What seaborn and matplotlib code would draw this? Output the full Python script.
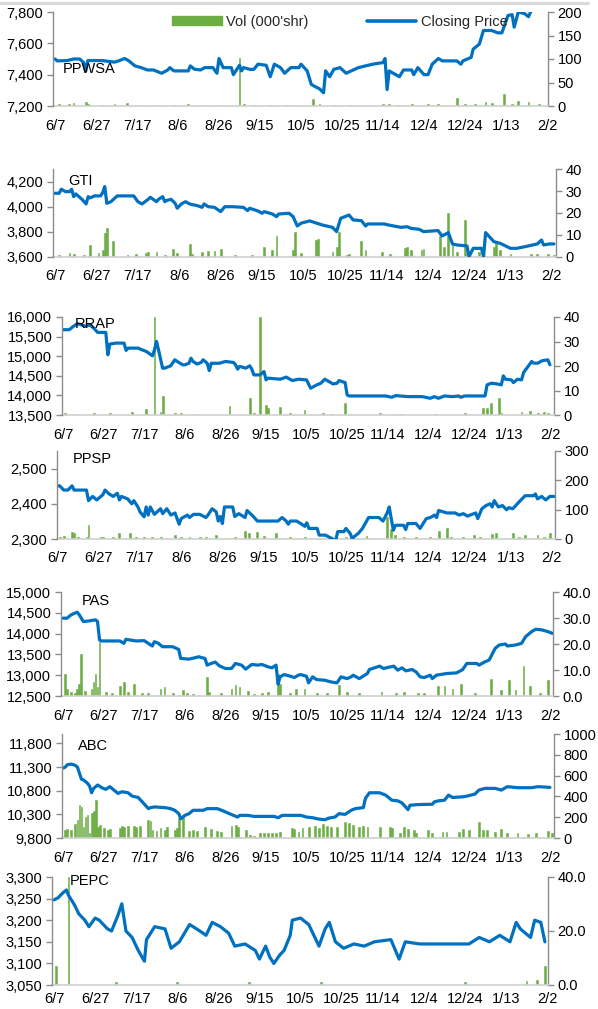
import matplotlib
matplotlib.use("Agg")
import matplotlib.pyplot as plt
import seaborn as sns
from matplotlib.lines import Line2D
from matplotlib.patches import Patch
from matplotlib.ticker import FuncFormatter

# ---------------- data ----------------
TICK_DAYS = [0, 20, 40, 60, 80, 100, 120, 140, 160, 180, 200, 220, 240]
TICK_LABELS = ["6/7", "6/27", "7/17", "8/6", "8/26", "9/15", "10/5", "10/25",
               "11/14", "12/4", "12/24", "1/13", "2/2"]

PPWSA_DAY = [0, 1, 6, 9, 12, 14, 15, 16, 23, 29, 31, 34, 36, 39, 42, 45, 48, 52, 55, 56, 58, 65, 66, 68, 71, 73, 77, 79, 80, 82, 86, 87, 90, 91, 92, 95, 97, 99, 103, 105, 107, 110, 112, 115, 119, 120, 123, 125, 127, 129, 131, 132, 134, 136, 139, 142, 148, 155, 160, 161, 162, 163, 168, 170, 174, 175, 177, 180, 182, 184, 187, 189, 196, 198, 199, 203, 204, 207, 209, 213, 216, 218, 221, 223, 224, 226, 229, 231, 232, 234, 238]
PPWSA_PRICE = [7500, 7488, 7490, 7500, 7500, 7477, 7424, 7490, 7490, 7480, 7488, 7503, 7488, 7456, 7445, 7430, 7430, 7409, 7430, 7445, 7424, 7424, 7456, 7435, 7430, 7445, 7445, 7409, 7503, 7445, 7445, 7400, 7460, 7424, 7445, 7434, 7434, 7467, 7460, 7387, 7467, 7445, 7409, 7445, 7445, 7467, 7424, 7338, 7323, 7310, 7284, 7424, 7387, 7434, 7445, 7409, 7445, 7467, 7477, 7503, 7305, 7424, 7387, 7430, 7430, 7400, 7445, 7400, 7400, 7467, 7503, 7488, 7488, 7467, 7488, 7510, 7563, 7595, 7682, 7682, 7667, 7667, 7778, 7783, 7703, 7800, 7790, 7770, 7800, 7830, 7850]
PPWSA_VOL_DAY = [2, 7, 9, 15, 16, 23, 29, 35, 42, 50, 58, 65, 73, 81, 90, 92, 97, 105, 113, 126, 129, 136, 144, 160, 163, 168, 174, 182, 187, 196, 200, 205, 210, 213, 219, 223, 226, 231, 236]
PPWSA_VOL = [4, 5, 6, 8, 4, 3, 4, 6, 3, 2, 3, 4, 3, 3, 103, 5, 3, 3, 2, 14, 5, 3, 3, 4, 5, 3, 4, 5, 5, 18, 4, 5, 8, 6, 26, 4, 10, 8, 4]

GTI_DAY = [0, 2, 3, 5, 7, 8, 9, 10, 13, 15, 16, 17, 19, 22, 23, 24, 25, 27, 30, 38, 40, 42, 45, 46, 49, 50, 52, 53, 54, 56, 58, 59, 61, 63, 65, 69, 71, 72, 74, 77, 80, 82, 86, 91, 93, 94, 98, 100, 101, 105, 107, 108, 113, 115, 117, 119, 123, 129, 134, 136, 138, 140, 142, 144, 148, 150, 151, 159, 161, 167, 170, 172, 176, 178, 185, 187, 190, 192, 194, 199, 200, 202, 206, 207, 208, 212, 215, 220, 223, 227, 233, 235, 236, 239, 241]
GTI_PRICE = [4107, 4107, 4139, 4120, 4120, 4139, 4080, 4102, 4059, 4022, 4080, 4070, 4086, 4086, 4112, 4160, 4027, 4040, 4086, 4086, 4040, 4022, 4059, 4075, 4040, 4059, 4080, 4040, 4050, 4059, 4027, 3988, 4022, 4040, 4022, 4007, 3995, 4022, 4000, 3995, 3961, 4000, 4000, 3995, 3969, 3988, 3966, 3948, 3961, 3942, 3921, 3942, 3948, 3921, 3847, 3870, 3887, 3855, 3836, 3802, 3908, 3921, 3934, 3895, 3889, 3847, 3863, 3863, 3855, 3836, 3841, 3828, 3820, 3802, 3810, 3767, 3794, 3704, 3696, 3688, 3603, 3669, 3669, 3603, 3794, 3722, 3709, 3669, 3669, 3682, 3704, 3735, 3696, 3704, 3704]
GTI_VOL_DAY = [2, 7, 9, 14, 17, 21, 23, 24, 25, 28, 35, 39, 44, 45, 49, 53, 57, 59, 65, 66, 71, 74, 77, 80, 87, 95, 101, 105, 107, 115, 116, 119, 126, 127, 134, 136, 137, 141, 142, 148, 150, 158, 162, 169, 170, 172, 177, 178, 186, 188, 190, 192, 194, 198, 199, 205, 207, 212, 213, 215, 220, 230, 233, 238, 241]
GTI_VOL = [1, 2, 1.5, 1, 5.5, 2, 3, 10.7, 13, 7.5, 1, 1.5, 2, 2.5, 2.5, 1, 3.6, 2, 5.8, 1.5, 2.5, 2.6, 2.6, 3.5, 1, 1, 4.4, 3, 9.5, 3, 11.5, 2, 7.6, 8, 2.5, 4.6, 11.5, 1, 1.5, 7.3, 3, 2.5, 1.5, 4, 4.6, 3, 3, 3.5, 9.5, 4.5, 20, 5.3, 2.5, 17, 1, 2.5, 4.5, 4.6, 7.3, 3, 1.5, 1.2, 1.2, 1.5, 1]

RRAP_DAY = [0, 3, 5, 7, 9, 11, 13, 15, 17, 21, 22, 23, 26, 30, 31, 32, 37, 38, 41, 44, 45, 46, 47, 49, 50, 53, 55, 57, 59, 60, 62, 63, 64, 66, 68, 69, 71, 72, 73, 77, 80, 84, 85, 86, 87, 90, 92, 93, 94, 97, 99, 100, 101, 107, 110, 113, 116, 120, 122, 125, 127, 129, 131, 133, 135, 136, 139, 140, 141, 149, 159, 162, 164, 170, 177, 181, 183, 185, 188, 192, 195, 196, 198, 208, 209, 211, 214, 216, 217, 218, 221, 222, 224, 226, 227, 231, 232, 234, 236, 239, 240]
RRAP_PRICE = [15676, 15676, 15761, 15830, 15800, 15761, 15800, 15718, 15607, 15607, 15036, 15309, 15334, 15334, 15147, 15206, 15206, 15180, 15121, 15010, 15160, 15377, 15160, 14695, 14695, 14754, 14908, 14840, 14780, 14780, 14820, 14950, 14866, 14800, 14840, 14908, 14820, 14634, 14820, 14820, 14866, 14840, 14780, 14669, 14740, 14695, 14754, 14669, 14523, 14523, 14609, 14396, 14440, 14413, 14466, 14379, 14413, 14396, 14183, 14268, 14310, 14413, 14353, 14293, 14310, 14379, 14327, 14012, 13986, 13986, 13986, 13952, 13995, 13969, 13969, 13926, 13969, 13926, 13986, 13969, 13986, 13952, 13986, 13986, 14268, 14310, 14293, 14268, 14498, 14413, 14396, 14327, 14413, 14396, 14582, 14865, 14822, 14822, 14882, 14908, 14780]
RRAP_VOL_DAY = [1, 7, 15, 23, 34, 41, 45, 48, 49, 55, 58, 66, 82, 92, 94, 97, 100, 101, 107, 112, 119, 128, 132, 139, 156, 166, 184, 198, 207, 209, 211, 215, 216, 226, 230, 234, 237, 239]
RRAP_VOL = [0.7, 0.4, 0.8, 0.7, 1.2, 2.6, 40, 1.4, 7.8, 0.7, 0.9, 0.4, 3.7, 7.1, 0.7, 40, 4, 2.7, 3.4, 0.7, 2, 0.7, 0.4, 4.8, 1, 0.4, 0.4, 0.7, 2.7, 2.7, 4.8, 6.8, 0.7, 1.4, 1.6, 1, 1.4, 1]

PPSP_DAY = [0, 1, 3, 5, 7, 8, 14, 15, 17, 19, 22, 23, 25, 27, 29, 30, 31, 34, 36, 37, 39, 40, 42, 43, 44, 45, 47, 50, 51, 53, 55, 57, 59, 60, 63, 64, 66, 69, 72, 73, 75, 77, 78, 79, 80, 81, 85, 86, 88, 91, 92, 95, 97, 102, 107, 109, 111, 112, 113, 116, 118, 120, 121, 122, 126, 127, 130, 133, 135, 136, 139, 140, 142, 143, 146, 148, 151, 156, 158, 160, 161, 163, 164, 168, 169, 170, 174, 176, 179, 181, 183, 184, 185, 189, 193, 195, 197, 199, 203, 204, 206, 208, 210, 211, 212, 214, 216, 218, 219, 221, 224, 227, 231, 232, 233, 235, 237, 239, 241]
PPSP_PRICE = [2451, 2451, 2439, 2439, 2451, 2439, 2439, 2409, 2421, 2411, 2426, 2439, 2428, 2421, 2430, 2411, 2421, 2414, 2400, 2409, 2391, 2377, 2363, 2391, 2368, 2391, 2370, 2386, 2372, 2386, 2368, 2374, 2342, 2358, 2368, 2361, 2370, 2370, 2361, 2368, 2386, 2377, 2351, 2364, 2344, 2391, 2391, 2364, 2372, 2361, 2381, 2364, 2351, 2351, 2351, 2361, 2351, 2342, 2351, 2351, 2344, 2336, 2346, 2330, 2330, 2311, 2311, 2302, 2295, 2321, 2321, 2330, 2316, 2302, 2316, 2330, 2361, 2361, 2351, 2374, 2391, 2325, 2339, 2339, 2327, 2344, 2344, 2330, 2358, 2361, 2368, 2361, 2381, 2374, 2374, 2368, 2372, 2365, 2374, 2358, 2386, 2395, 2400, 2391, 2409, 2391, 2395, 2383, 2389, 2386, 2405, 2423, 2423, 2428, 2414, 2421, 2411, 2421, 2421]
PPSP_VOL_DAY = [1, 3, 7, 8, 10, 14, 15, 21, 22, 27, 30, 35, 38, 42, 46, 50, 57, 60, 64, 69, 72, 77, 86, 91, 93, 97, 100, 106, 113, 120, 127, 133, 140, 146, 150, 160, 162, 164, 168, 174, 181, 185, 189, 191, 197, 202, 205, 211, 213, 219, 221, 224, 227, 233, 236, 239]
PPSP_VOL = [8, 10, 25, 19, 8, 8, 48, 8, 6, 6, 19, 22, 8, 6, 6, 6, 14, 6, 8, 6, 6, 14, 6, 28, 22, 25, 10, 19, 6, 8, 5, 5, 8, 5, 10, 74, 33, 14, 6, 6, 6, 28, 36, 6, 6, 14, 8, 17, 22, 5, 22, 8, 14, 14, 6, 19]

PAS_DAY = [0, 2, 4, 7, 8, 10, 13, 16, 17, 18, 19, 28, 30, 31, 33, 36, 40, 42, 44, 45, 47, 49, 54, 57, 58, 62, 65, 67, 68, 70, 71, 73, 75, 77, 80, 83, 85, 88, 90, 93, 96, 98, 101, 103, 105, 106, 107, 109, 112, 114, 116, 117, 120, 121, 123, 125, 129, 132, 135, 137, 140, 142, 143, 146, 150, 151, 154, 156, 158, 160, 163, 165, 167, 169, 172, 174, 176, 178, 181, 182, 184, 187, 189, 194, 197, 199, 204, 205, 208, 210, 213, 215, 218, 219, 223, 226, 228, 231, 233, 236, 239, 241]
PAS_PRICE = [14371, 14371, 14452, 14516, 14452, 14290, 14306, 14331, 14290, 13847, 13823, 13823, 13766, 13863, 13847, 13823, 13831, 13766, 13702, 13806, 13766, 13685, 13685, 13620, 13403, 13387, 13419, 13444, 13427, 13403, 13242, 13282, 13315, 13226, 13161, 13161, 13282, 13242, 13145, 13258, 13242, 13258, 13202, 13177, 13242, 12782, 12960, 13016, 12976, 12944, 13000, 13016, 12976, 12815, 12960, 12895, 12879, 12839, 12815, 12960, 12919, 12960, 13000, 12919, 13040, 13137, 13185, 13218, 13161, 13185, 13218, 13121, 13177, 13105, 13137, 13080, 12960, 12944, 13000, 12919, 13000, 13024, 13040, 13056, 13137, 13282, 13282, 13242, 13323, 13363, 13645, 13726, 13750, 13702, 13726, 13766, 13927, 14048, 14105, 14089, 14048, 14008]
PAS_VOL_DAY = [1, 2, 4, 6, 7, 8, 9, 11, 14, 15, 16, 17, 18, 21, 24, 28, 30, 32, 35, 39, 42, 48, 50, 54, 59, 61, 64, 71, 72, 78, 83, 85, 87, 91, 94, 98, 101, 106, 107, 112, 115, 119, 125, 130, 136, 140, 146, 157, 164, 168, 175, 178, 185, 188, 192, 196, 203, 211, 216, 220, 223, 227, 230, 235, 239]
PAS_VOL = [8.3, 2.8, 1.5, 1, 2.8, 4.8, 16.1, 2, 2.8, 5.4, 8.4, 3.5, 20.9, 1.5, 1, 3.7, 5.4, 1.5, 4.5, 1, 1, 2.8, 3.5, 1, 2.2, 1, 0.6, 7.4, 1.5, 1, 2.8, 4.1, 3.5, 2, 0.6, 1, 1.5, 8.4, 4.5, 1, 2.8, 2.8, 1, 1, 4.1, 1.5, 1, 1.5, 1.3, 1.5, 1.3, 1, 3.7, 3.7, 2.8, 4.5, 1, 6.7, 2.2, 6.1, 2.2, 11.5, 3.7, 1, 6.1]

ABC_DAY = [0, 1, 2, 4, 6, 7, 8, 9, 10, 12, 13, 14, 15, 17, 19, 21, 23, 25, 27, 29, 32, 34, 37, 39, 42, 43, 45, 50, 53, 55, 57, 58, 60, 62, 64, 69, 71, 76, 79, 82, 86, 87, 91, 94, 104, 106, 108, 117, 120, 123, 126, 129, 131, 134, 136, 139, 142, 144, 148, 149, 151, 156, 159, 162, 165, 167, 170, 171, 175, 182, 183, 185, 188, 190, 192, 197, 199, 203, 205, 208, 213, 216, 219, 224, 231, 234, 240]
ABC_PRICE = [11279, 11300, 11350, 11364, 11336, 11300, 11171, 11043, 11029, 10957, 10900, 10757, 10850, 10921, 10864, 10829, 10886, 10814, 10743, 10779, 10757, 10686, 10657, 10564, 10421, 10443, 10457, 10443, 10421, 10386, 10314, 10207, 10279, 10314, 10386, 10386, 10421, 10421, 10371, 10314, 10243, 10279, 10279, 10257, 10257, 10229, 10279, 10279, 10243, 10229, 10200, 10186, 10221, 10243, 10314, 10300, 10386, 10421, 10443, 10636, 10757, 10757, 10707, 10600, 10586, 10543, 10400, 10493, 10507, 10514, 10564, 10586, 10600, 10707, 10657, 10671, 10686, 10729, 10814, 10850, 10850, 10814, 10886, 10864, 10864, 10886, 10871]
ABC_VOL_DAY = [1, 2, 4, 6, 7, 8, 9, 10, 11, 12, 13, 14, 15, 16, 17, 18, 20, 22, 23, 28, 29, 30, 32, 35, 36, 38, 42, 43, 44, 46, 48, 50, 51, 55, 56, 57, 59, 62, 64, 66, 70, 73, 76, 78, 83, 85, 86, 90, 92, 94, 97, 99, 101, 103, 105, 107, 113, 114, 116, 118, 121, 124, 126, 128, 130, 132, 135, 139, 141, 143, 146, 148, 150, 156, 161, 162, 166, 168, 170, 173, 174, 180, 182, 187, 189, 195, 197, 200, 205, 207, 209, 213, 216, 219, 224, 229, 233, 239, 241]
ABC_VOL = [77, 84, 77, 135, 174, 319, 297, 110, 200, 223, 45, 245, 255, 368, 110, 126, 94, 77, 84, 94, 116, 110, 116, 116, 103, 116, 174, 168, 77, 71, 94, 77, 103, 77, 94, 190, 206, 71, 77, 71, 110, 84, 71, 61, 116, 126, 110, 77, 29, 19, 52, 52, 52, 52, 52, 61, 94, 84, 61, 94, 103, 116, 94, 135, 116, 110, 103, 158, 142, 126, 110, 116, 103, 103, 110, 94, 45, 103, 84, 77, 52, 77, 52, 61, 61, 61, 84, 77, 158, 77, 77, 61, 84, 52, 45, 39, 45, 71, 45]

PEPC_DAY = [0, 2, 4, 6, 7, 10, 12, 15, 17, 20, 22, 26, 28, 31, 33, 35, 38, 41, 44, 45, 49, 54, 57, 61, 66, 71, 74, 77, 81, 85, 88, 93, 98, 100, 103, 105, 107, 110, 112, 115, 116, 120, 124, 129, 132, 134, 137, 141, 146, 151, 156, 164, 168, 171, 178, 188, 202, 207, 212, 217, 222, 225, 227, 232, 234, 237, 239]
PEPC_PRICE = [3247, 3252, 3262, 3270, 3258, 3235, 3215, 3200, 3185, 3205, 3200, 3180, 3175, 3210, 3238, 3175, 3160, 3130, 3105, 3155, 3185, 3180, 3135, 3150, 3190, 3175, 3165, 3195, 3185, 3170, 3140, 3145, 3130, 3110, 3140, 3115, 3100, 3120, 3130, 3165, 3200, 3205, 3190, 3140, 3180, 3195, 3150, 3135, 3145, 3140, 3150, 3155, 3110, 3150, 3145, 3145, 3145, 3160, 3150, 3165, 3150, 3195, 3180, 3160, 3200, 3195, 3150]
PEPC_VOL_DAY = [1, 7, 30, 60, 95, 130, 200, 230, 235, 239]
PEPC_VOL = [7, 40, 1, 1, 1, 1, 1, 1.5, 2, 7]

BLUE = "#0070C0"
GREEN = "#6DAE44"
AXIS_GREY = "#8C8C8C"

# ---------------- figure ----------------
sns.set_theme(style="white")
plt.rcParams['font.family'] = ['Liberation Sans', 'DejaVu Sans']
FS = 10.5

W, H = 598, 1009
fig = plt.figure(figsize=(W / 100, H / 100), dpi=100)


def comma_fmt(v, pos):
    return f"{v:,.0f}"


def draw_panel(box, xlim, pdays, price, vdays, vol, ylim_l, ticks_l, fmt_l,
               ylim_r, ticks_r, fmt_r, name, name_xy, xpad=9):
    l, r, t, b = box
    ax = fig.add_axes([l / W, 1 - b / H, (r - l) / W, (b - t) / H])
    sns.histplot(x=vdays, weights=vol, discrete=True, shrink=0.9, ax=ax,
                 color=GREEN, alpha=1, linewidth=0.4, edgecolor=GREEN)
    ax2 = ax.twinx()
    # bars: volume on the right-hand axis
    ax.set_ylim(*ylim_r)
    ax.set_yticks(ticks_r)
    ax.yaxis.set_major_formatter(FuncFormatter(fmt_r))
    ax.yaxis.tick_right()
    ax.yaxis.set_label_position('right')
    ax.set_ylabel("")
    ax.set_xlabel("")
    ax.set_xlim(*xlim)
    ax.set_xticks(TICK_DAYS)
    ax.set_xticklabels(TICK_LABELS)
    ax.tick_params(axis='x', length=0, pad=xpad, labelsize=FS, colors='black')
    ax.tick_params(axis='y', which='major', direction='out', length=4, width=1,
                   color=AXIS_GREY, labelsize=FS, labelcolor='black', pad=3,
                   right=True, left=False, labelright=True, labelleft=False)
    for s in ['left', 'top']:
        ax.spines[s].set_visible(False)
    ax.spines['right'].set_visible(True)
    ax.spines['right'].set_color(AXIS_GREY)
    ax.spines['right'].set_linewidth(1)
    ax.spines['bottom'].set_color('#D0D0D0')
    ax.spines['bottom'].set_linewidth(1.2)

    # line: closing price on the left-hand axis
    sns.lineplot(x=pdays, y=price, ax=ax2, color=BLUE, linewidth=2.3)
    ax2.set_ylim(*ylim_l)
    ax2.set_yticks(ticks_l)
    ax2.yaxis.set_major_formatter(FuncFormatter(fmt_l))
    ax2.yaxis.tick_left()
    ax2.yaxis.set_label_position('left')
    ax2.set_ylabel("")
    ax2.set_xlim(*xlim)
    ax2.tick_params(axis='y', which='major', direction='out', length=4, width=1,
                    color=AXIS_GREY, labelsize=FS, labelcolor='black', pad=3,
                    left=True, right=False, labelleft=True, labelright=False)
    for s in ['right', 'top', 'bottom']:
        ax2.spines[s].set_visible(False)
    ax2.spines['left'].set_visible(True)
    ax2.spines['left'].set_color(AXIS_GREY)
    ax2.spines['left'].set_linewidth(1)

    fig.text(name_xy[0] / W, 1 - name_xy[1] / H, name, ha='left', va='center',
             fontsize=FS, color='black')
    return ax, ax2


int_fmt = comma_fmt
one_dec = lambda v, p: f"{v:.1f}"
plain = lambda v, p: f"{v:.0f}"

draw_panel((53, 548, 12, 106), (-1, 240.5), PPWSA_DAY, PPWSA_PRICE,
           PPWSA_VOL_DAY, PPWSA_VOL, (7200, 7800), [7200, 7400, 7600, 7800],
           int_fmt, (0, 200), [0, 50, 100, 150, 200], plain, "PPWSA", (63, 69))
draw_panel((53, 556, 169, 257), (-1, 242), GTI_DAY, GTI_PRICE, GTI_VOL_DAY, GTI_VOL,
           (3600, 4300), [3600, 3800, 4000, 4200], int_fmt,
           (0, 40), [0, 10, 20, 30, 40], plain, "GTI", (68, 181))
draw_panel((62, 554, 317, 415), (-0.6, 242), RRAP_DAY, RRAP_PRICE, RRAP_VOL_DAY, RRAP_VOL,
           (13500, 16000), [13500, 14000, 14500, 15000, 15500, 16000], int_fmt,
           (0, 40), [0, 10, 20, 30, 40], plain, "RRAP", (75, 324))
draw_panel((57, 555, 451, 539), (-0.3, 241.5), PPSP_DAY, PPSP_PRICE, PPSP_VOL_DAY, PPSP_VOL,
           (2300, 2550), [2300, 2400, 2500], int_fmt,
           (0, 300), [0, 100, 200, 300], plain, "PPSP", (73, 459))
draw_panel((61, 553, 592, 696), (-1, 241.5), PAS_DAY, PAS_PRICE, PAS_VOL_DAY, PAS_VOL,
           (12500, 15000), [12500, 13000, 13500, 14000, 14500, 15000], int_fmt,
           (0, 40), [0, 10, 20, 30, 40], one_dec, "PAS", (82, 601))
draw_panel((62, 554, 734, 838), (-0.6, 242), ABC_DAY, ABC_PRICE, ABC_VOL_DAY, ABC_VOL,
           (9800, 12000), [9800, 10300, 10800, 11300, 11800], int_fmt,
           (0, 1000), [0, 200, 400, 600, 800, 1000], plain, "ABC", (78, 746))
draw_panel((52, 548, 877, 985), (-1, 240.5), PEPC_DAY, PEPC_PRICE, PEPC_VOL_DAY, PEPC_VOL,
           (3050, 3300), [3050, 3100, 3150, 3200, 3250, 3300], int_fmt,
           (0, 40), [0, 20, 40], one_dec, "PEPC", (70, 881), xpad=5)

handles = [Patch(facecolor=GREEN, edgecolor=GREEN),
           Line2D([], [], color=BLUE, linewidth=2.6)]
fig.legend(handles, ["Vol (000'shr)", "Closing Price"], loc='center left',
           bbox_to_anchor=(172 / W, 1 - 22 / H), ncol=2, frameon=False,
           fontsize=FS, handlelength=3.4, handleheight=0.55, handletextpad=0.3,
           columnspacing=4.0, borderaxespad=0, borderpad=0)

fig.add_artist(Line2D([0, 588 / W], [1 - 3 / H, 1 - 3 / H], color='#D9D9D9',
                      linewidth=2.2))

fig.savefig("out.png", dpi=100)
